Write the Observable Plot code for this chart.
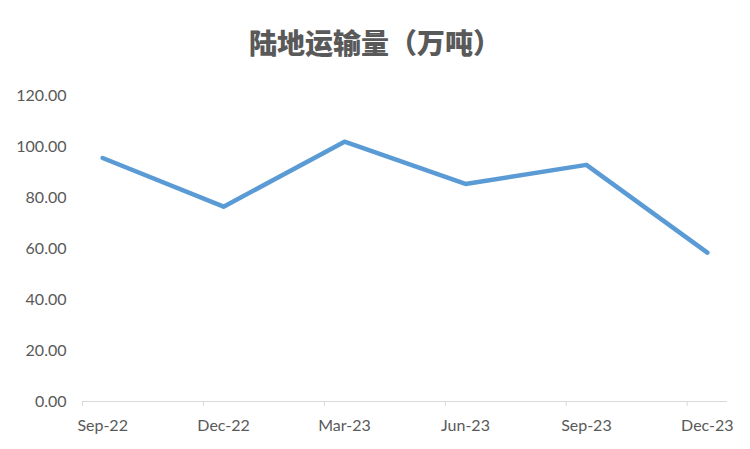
<!DOCTYPE html>
<html>
<head>
<meta charset="utf-8">
<script src="https://cdn.jsdelivr.net/npm/d3@7"></script>
<script src="https://cdn.jsdelivr.net/npm/@observablehq/plot@0.6"></script>
<style>
  html, body { margin: 0; padding: 0; background: #fff; }
  #title { height: 70px; box-sizing: border-box; padding-top: 28px; text-align: center;
    font-family: "Noto Sans CJK SC", sans-serif; font-weight: 900; font-size: 28px; line-height: 1; color: #595959; }
</style>
</head>
<body>
<div id="title">陆地运输量（万吨）</div>
<div id="chart"></div>
<script>
const categories = ["Sep-22", "Dec-22", "Mar-23", "Jun-23", "Sep-23", "Dec-23"];
const values = [95.5, 76.4, 101.9, 85.3, 92.8, 58.4];
const monthsPerStep = 3;
const totalMonths = 16;
const yTicks = [0, 20, 40, 60, 80, 100, 120];

const data = categories.map((c, i) => ({label: c, m: i * monthsPerStep + 0.5, v: values[i]}));
const boundaries = categories.map((c, i) => i * monthsPerStep);
const labelAt = new Map(data.map(d => [d.m, d.label]));

const chart = Plot.plot({
  width: 750,
  height: 379,
  marginLeft: 82,
  marginRight: 23,
  marginTop: 25,
  marginBottom: 48,
  style: {fontFamily: "Lato, 'Open Sans', sans-serif", fontSize: "16px", color: "#595959", background: "#fff"},
  x: {domain: [0, totalMonths], axis: null},
  y: {domain: [0, 120], axis: null},
  marks: [
    Plot.ruleY([0], {stroke: "#d9d9d9", strokeWidth: 1}),
    Plot.axisX({ticks: boundaries, tickSize: 5, tickFormat: () => "", label: null, stroke: "#d9d9d9", strokeOpacity: 1}),
    Plot.axisX({ticks: data.map(d => d.m), tickSize: 0, tickPadding: 18, tickFormat: d => labelAt.get(d), label: null, fill: "#595959"}),
    Plot.axisY({ticks: yTicks, tickSize: 0, tickPadding: 16, tickFormat: d => d.toFixed(2), label: null, fill: "#595959"}),
    Plot.line(data, {x: "m", y: "v", stroke: "#5B9BD5", strokeWidth: 4.5, strokeLinecap: "round", strokeLinejoin: "round"})
  ]
});
document.getElementById("chart").appendChild(chart);
</script>
</body>
</html>
